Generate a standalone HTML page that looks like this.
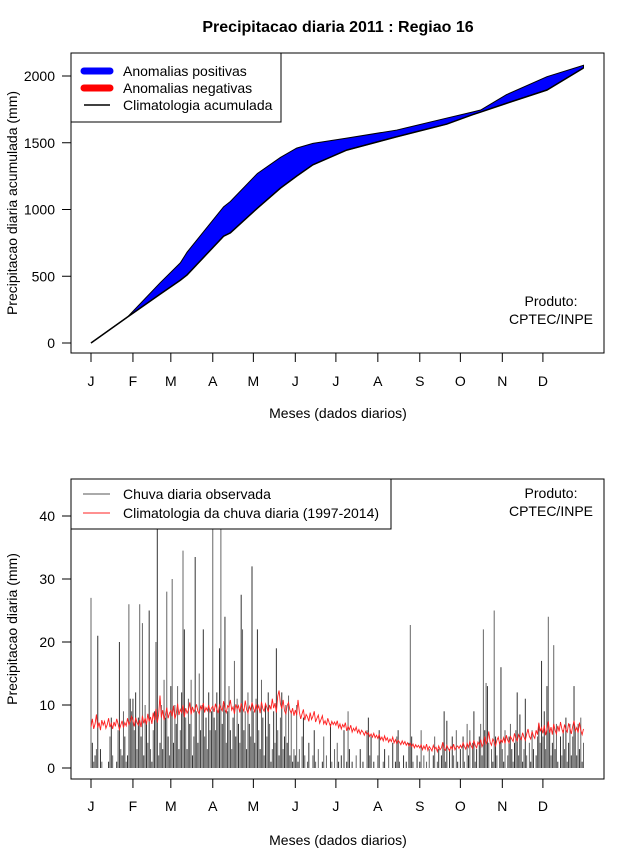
<!DOCTYPE html>
<html><head><meta charset="utf-8"><style>
body{margin:0;background:#fff}
svg{display:block;font-family:"Liberation Sans",sans-serif}
</style></head><body>
<svg id="c" width="640" height="850" xmlns="http://www.w3.org/2000/svg">
<rect width="640" height="850" fill="#fff"/>
<text x="338" y="32" text-anchor="middle" font-size="16" font-weight="bold">Precipitacao diaria 2011 : Regiao 16</text>
<g id="topg"></g>
<g id="botg"></g>
</svg>
<script>
const months=["J","F","M","A","M","J","J","A","S","O","N","D"];
const monthStart=[1,32,60,91,121,152,182,213,244,274,305,335];
const cumDays=[1,28,52,67,72,99,104,124,141,153,165,190,227,264,283,289,308,338,365];
const cumObs=[0,195,450,600,680,1020,1060,1270,1390,1460,1495,1535,1595,1685,1730,1745,1860,1995,2080];
const cumClim=[0,195,365,470,510,800,825,1010,1160,1250,1335,1445,1545,1640,1710,1730,1795,1895,2060];
const topTicks=[0,500,1000,1500,2000];
const botTicks=[0,10,20,30,40];
const obsDaily=[
27,4,1,2,3,21,0,3,1,0,0,0,0,1,5,8,2,0,0,1,6,20,3,2,9,5,1,2,26,11,9,
11,6,12,3,8,26,5,23,2,10,7,4,25,3,1,6,9,20,45,2,4,10,3,14,8,28,5,2,
13,30,4,10,7,13,3,6,12,34.5,22,8,3,11,7,14,2,5,33.5,9,4,15,6,10,22,5,8,3,12,6,9,
45,8,6,12,9,19,45,7,10,24,4,9,13,6,3,8,17,5,11,7,4,27.5,22,6,9,3,12,7,5,32,
9,4,11,22,6,3,14,8,2,10,5,12,7,1,3,9,4,19,6,2,8,12,3,5,10,4,11.5,2,9,1,3,
2,10,1,3,0,5,8,2,0,1,4,0,0,2,6,1,0,3,0,0,1,5,0,2,0,0,7,1,0,3,
0,4,1,0,2,0,6,0,1,9,3,0,1,0,0,2,0,0,3,0,1,0,0,6,8,2,5,0,1,0,0,
2,6,0,0,1,3,0,0,2,0,0,4,0,1,5,6,1,0,0,2,0,1,0,4,22.7,5,1,0,0,2,0,
1,6,0,2,0,1,0,3,0,0,2,5,0,1,3,0,2,4,9,1,7.5,0,3,0,5,2,0,6,1,0,
3,0,5,1,0,7,2,6,0,4,9,1,3,0,5,7,2,22,6,13.5,13,4,0,3,1,25,5,2,0,4,16,
3,1,6,0,2,5,7,3,1,4,6,12,2,8.5,5,1,3,11,2,0,4,1,6,3,0,2,5,7,4,17,
5,9,3,13,24,6,2,4,19.5,3,7,1,0,5,2,6,3,8,1,4,7,2,5,13,6,2,7,3,8,1,4];
const climDaily=[
6.5,7.8,6.2,7,8.5,6.4,7.2,6,7.6,6.8,7.4,6.3,6.9,7.9,6.5,7.1,6.2,7.3,6.6,7.8,7,6.1,6.8,7.5,6.4,7.2,6.7,7.9,6.9,7.4,8.2,
7.5,6.6,8,7.2,6.8,7.6,6.5,8.3,7.1,7.9,6.9,8.6,7.4,8.1,7,8.8,7.6,9.4,7.2,8.5,11.5,8,9.2,7.6,8.4,9.6,7.9,8.7,
9.1,8.2,9.9,7.8,8.6,10.2,8.4,9.3,8.8,10,8.1,9.5,8.7,9.2,10.4,8.5,9.7,8.9,9.4,10.1,9,8.6,9.8,9.3,10.3,8.8,9.6,9.1,10,8.9,9.5,
9.8,8.9,10.2,9.4,8.7,10,9.5,9.1,10.6,9.3,8.8,9.9,9.6,10.8,9.2,9.7,8.6,10.1,9.4,9.9,8.8,10.3,9.5,9,10.7,9.3,8.7,9.8,9.2,10.4,
9.6,8.8,10.1,9.3,9.9,8.7,10.5,9.4,9,10.2,9.6,8.9,10,9.3,11,9.5,10.3,8.8,11.4,12.3,10.2,9.4,10.8,9.1,8.6,9.9,10.4,9.2,8.7,9.5,8.3,
9.2,8.4,10.8,8.9,7.8,8.6,9.3,7.6,8.5,8.1,7.4,8.8,7.7,8.2,9,7.3,7.9,8.4,7.1,7.7,8.3,7,7.5,6.8,7.9,7.2,6.6,7.4,6.9,7.3,
6.8,7.5,6.4,7,6.2,6.9,6.5,7.2,5.9,6.6,6.1,6.8,5.7,6.3,5.9,6.5,5.6,6.1,5.4,6,5.7,5.2,5.8,5.3,5.6,5,5.4,4.9,5.5,4.8,5.2,
4.7,5.3,4.5,4.9,4.3,5.1,4.4,4.8,4.1,4.6,4.2,4.9,4,4.5,3.9,4.4,4.1,3.7,4.3,3.8,4.2,3.6,4,3.5,3.9,3.4,3.8,3.2,3.7,3.3,3.6,
3.2,3.7,2.9,3.5,3,3.8,2.8,3.4,3.1,2.7,3.6,3,3.3,2.6,3.5,2.9,3.2,4.1,3,2.8,3.6,3.1,2.7,3.4,3,3.8,2.9,3.3,3.5,3.1,
3.6,3.2,4,3.4,3,3.9,3.3,4.2,3.5,3.1,4.4,3.6,3.2,4.1,3.7,4.5,3.4,3.9,5,3.8,4.3,5.8,4.1,3.6,4.6,4.2,3.5,4.4,4.9,3.8,4.5,
4.1,4.8,3.9,5.2,4.4,4,5,4.6,4.2,5.5,4.7,4.3,5.3,4.8,4.5,5.6,4.9,4.4,5.4,6.2,5,4.6,5.8,5.1,4.7,6,5.3,7.2,5.8,6.4,
5.5,6.8,5.2,6.1,7.4,5.6,6.5,5.3,7,6,5.4,6.7,5.8,7.3,6.2,5.5,6.9,6.1,5.7,7.1,6.3,5.4,6.6,7.5,5.9,6.4,5.6,7.2,6,5.3,6.2];

const NS="http://www.w3.org/2000/svg";
function mk(parent,tag,attrs,text){const e=document.createElementNS(NS,tag);for(const k in attrs)e.setAttribute(k,attrs[k]);if(text!==undefined)e.textContent=text;parent.appendChild(e);return e;}
const xDay=d=>91+(d-1)*1.353;
const yTop=v=>343-v*0.1335;
const yBot=v=>768-v*6.3;

function axes(g,box,yScale,ticks,ylab,tickY,labelY,xlabY){
  const r=mk(g,'rect',{x:box[0],y:box[1],width:box[2]-box[0],height:box[3]-box[1],fill:'none',stroke:'#000','stroke-width':1});
  
  
  const ya=mk(g,'line',{x1:71,x2:71,y1:yScale(ticks[0]),y2:yScale(ticks[ticks.length-1]),stroke:'#000'});
  
  
  ticks.forEach(t=>{
    const y=yScale(t);
    const tl=mk(g,'line',{x1:62,x2:71,y1:y,y2:y,stroke:'#000'});
    
    
    const tx=mk(g,'text',{x:55,y:y+5,'text-anchor':'end','font-size':14},String(t));
    
    
  });
  const xa=mk(g,'line',{x1:xDay(monthStart[0]),x2:xDay(monthStart[11]),y1:box[3],y2:box[3],stroke:'#000'});
  
  
  months.forEach((m,i)=>{
    const x=xDay(monthStart[i]);
    const tl=mk(g,'line',{x1:x,x2:x,y1:box[3],y2:tickY,stroke:'#000'});
    
    
    const tx=mk(g,'text',{x:x,y:labelY,'text-anchor':'middle','font-size':14},m);
    
    
  });
  const xl=mk(g,'text',{x:338,y:xlabY,'text-anchor':'middle','font-size':14},'Meses (dados diarios)');
  
  
  const cy=(box[1]+box[3])/2;
  const yl=mk(g,'text',{x:17,y:cy,'text-anchor':'middle','font-size':14,transform:`rotate(-90 17 ${cy})`},ylab);
  
  
}

// TOP
const topG=document.getElementById('topg');
const pts=cumDays.map((d,i)=>xDay(d)+','+yTop(cumObs[i]));
const back=cumDays.map((d,i)=>xDay(d)+','+yTop(cumClim[i])).reverse();
const poly=mk(topG,'polygon',{points:pts.concat(back).join(' '),fill:'#0000ff',stroke:'#000','stroke-width':1});


const cl=mk(topG,'polyline',{points:cumDays.map((d,i)=>xDay(d)+','+yTop(cumClim[i])).join(' '),fill:'none',stroke:'#000','stroke-width':1.5});


axes(topG,[71,53,604,353],yTop,topTicks,'Precipitacao diaria acumulada (mm)',362,386,418);
const lg=mk(topG,'g',{});


mk(lg,'rect',{x:71,y:53,width:210,height:69,fill:'#fff',stroke:'#000'});
[['#0000ff',7,'Anomalias positivas',71],['#ff0000',7,'Anomalias negativas',88],['#000',1.5,'Climatologia acumulada',105]].forEach(e=>{
  const le=mk(lg,'g',{});
  
  
  mk(le,'line',{x1:84,x2:110,y1:e[3],y2:e[3],stroke:e[0],'stroke-width':e[1],'stroke-linecap':e[1]>2?'round':'butt'});
  mk(le,'text',{x:123,y:e[3]+5,'font-size':14},e[2]);
});
const p1=mk(topG,'text',{x:551,y:306,'text-anchor':'middle','font-size':14},'Produto:');


const p2=mk(topG,'text',{x:551,y:324,'text-anchor':'middle','font-size':14},'CPTEC/INPE');



// BOTTOM
const botG=document.getElementById('botg');
const defs=mk(botG,'defs',{});
const cp=mk(defs,'clipPath',{id:'clipb'});
mk(cp,'rect',{x:71,y:479,width:533,height:300});
const bars=mk(botG,'g',{'clip-path':'url(#clipb)'});


obsDaily.forEach((v,i)=>{
  const x=xDay(i+1);
  const b=mk(bars,'line',{x1:x,x2:x,y1:yBot(0),y2:yBot(v),stroke:i%2?'#333':'#666','stroke-width':1});
  
  
});
const cl2=mk(bars,'polyline',{points:climDaily.map((v,i)=>xDay(i+1)+','+yBot(v)).join(' '),fill:'none',stroke:'#ff2020','stroke-width':0.9});


axes(botG,[71,479,604,779],yBot,botTicks,'Precipitacao diaria (mm)',788,811,845);
const lg2=mk(botG,'g',{});


mk(lg2,'rect',{x:71,y:479,width:320,height:50,fill:'#fff',stroke:'#000'});
[['#555','Chuva diaria observada',494],['#ff2020','Climatologia da chuva diaria (1997-2014)',513]].forEach(e=>{
  const le=mk(lg2,'g',{});
  
  
  mk(le,'line',{x1:83,x2:110,y1:e[2],y2:e[2],stroke:e[0],'stroke-width':1});
  mk(le,'text',{x:123,y:e[2]+5,'font-size':14},e[1]);
});
const p3=mk(botG,'text',{x:551,y:498,'text-anchor':'middle','font-size':14},'Produto:');


const p4=mk(botG,'text',{x:551,y:516,'text-anchor':'middle','font-size':14},'CPTEC/INPE');


</script>
</body></html>
